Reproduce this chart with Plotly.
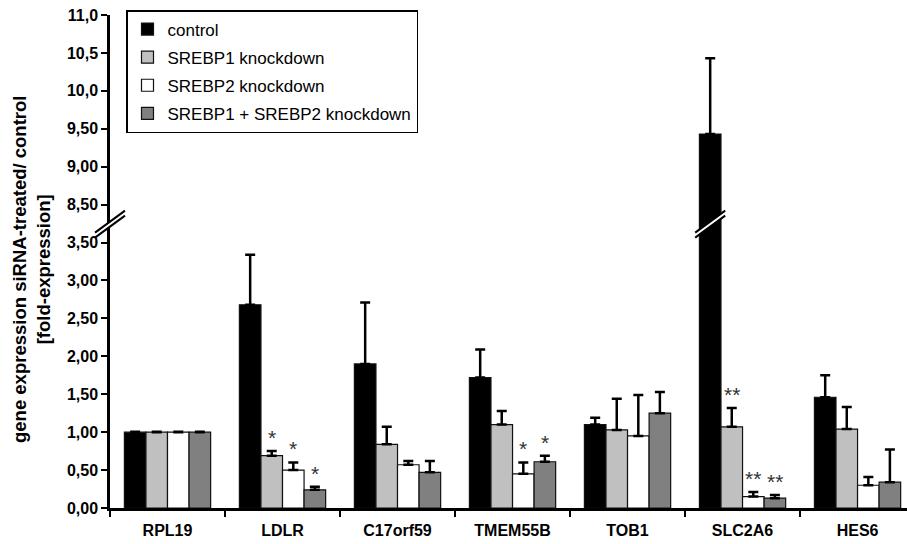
import plotly.graph_objects as go

# ---------------- data ----------------
genes = ["RPL19", "LDLR", "C17orf59", "TMEM55B", "TOB1", "SLC2A6", "HES6"]

control = [1.00, 2.68, 1.90, 1.72, 1.10, 9.43, 1.46]
control_err = [0.006, 0.66, 0.81, 0.37, 0.09, 1.00, 0.29]

srebp1 = [1.00, 0.69, 0.84, 1.10, 1.03, 1.07, 1.04]
srebp1_err = [0.006, 0.06, 0.23, 0.18, 0.41, 0.25, 0.29]

srebp2 = [1.00, 0.50, 0.57, 0.45, 0.95, 0.15, 0.30]
srebp2_err = [0.006, 0.10, 0.05, 0.15, 0.54, 0.06, 0.11]

both = [1.00, 0.24, 0.47, 0.61, 1.25, 0.13, 0.34]
both_err = [0.006, 0.04, 0.15, 0.08, 0.28, 0.04, 0.43]

sig_control = ["", "", "", "", "", "", ""]
sig_srebp1 = ["", "*", "", "", "", "**", ""]
sig_srebp2 = ["", "*", "", "*", "", "**", ""]
sig_both = ["", "*", "", "*", "", "**", ""]

series_names = ["control", "SREBP1 knockdown", "SREBP2 knockdown",
                "SREBP1 + SREBP2 knockdown"]
series_colors = ["#000000", "#C0C0C0", "#FFFFFF", "#808080"]

tick_values = [0.0, 0.5, 1.0, 1.5, 2.0, 2.5, 3.0, 3.5,
               8.5, 9.0, 9.5, 10.0, 10.5, 11.0]
tick_labels = ["0,00", "0,50", "1,00", "1,50", "2,00", "2,50", "3,00", "3,50",
               "8,50", "9,00", "9,50", "10,0", "10,5", "11,0"]

y_title = "gene expression siRNA-treated/ control<br>[fold-expression]"

# broken axis: 3.5 .. 8.5 compressed to a gap of 0.5 units
BREAK_LO, BREAK_HI, GAP = 3.5, 8.5, 0.5
SHIFT = BREAK_HI - BREAK_LO - GAP
Y_MAX = 11.0


def t(v):
    return v if v <= BREAK_LO else v - SHIFT


FONT = "Liberation Sans, Arial, Helvetica, sans-serif"

values = [control, srebp1, srebp2, both]
errors = [control_err, srebp1_err, srebp2_err, both_err]
sigs = [sig_control, sig_srebp1, sig_srebp2, sig_both]

fig = go.Figure()
for k in range(4):
    y = [t(v) for v in values[k]]
    e = [t(v + d) - t(v) for v, d in zip(values[k], errors[k])]
    fig.add_trace(go.Bar(
        x=genes, y=y, name=series_names[k], legendgroup=f"g{k}",
        marker=dict(color=series_colors[k], line=dict(color="#111111", width=1.2)),
        error_y=dict(type="data", array=e, arrayminus=[0] * len(e), symmetric=False,
                     color="#000000", thickness=2.5, width=5),
        customdata=values[k],
        hovertemplate="%{x}: %{customdata}<extra>" + series_names[k] + "</extra>",
    ))

# significance marks
BAR_W = 0.75 / 4
offsets = [-0.375 + BAR_W * (k + 0.5) for k in range(4)]
annotations = []
for k in range(4):
    for i, s in enumerate(sigs[k]):
        if s:
            annotations.append(dict(
                x=i + offsets[k], y=t(values[k][i] + errors[k][i]), xref="x", yref="y",
                text=s, showarrow=False, yanchor="bottom", yshift=0,
                font=dict(family=FONT, size=21, color="#333333")))

# y-axis title as rotated annotation
annotations.append(dict(
    text=y_title, textangle=-90, showarrow=False,
    xref="paper", yref="paper", x=(31 - 110) / 797, y=(508 - 270) / 493,
    xanchor="center", yanchor="middle",
    font=dict(family=FONT, size=18.5, color="black", weight="bold")))

# break symbols (axis and SLC2A6 control bar)
y_break = (BREAK_LO + t(BREAK_HI)) / 2
shapes = []


def break_mark(xref, xanchor):
    common = dict(xref=xref, yref="y", xsizemode="pixel", ysizemode="pixel",
                  xanchor=xanchor, yanchor=y_break, layer="above")
    shapes.append(dict(type="path", path="M-15,-9 L15,13 L15,8 L-15,-14 Z",
                       fillcolor="white", line=dict(width=0), **common))
    shapes.append(dict(type="line", x0=-15, y0=-9, x1=15, y1=13,
                       line=dict(color="black", width=2), **common))
    shapes.append(dict(type="line", x0=-15, y0=-14, x1=15, y1=8,
                       line=dict(color="black", width=2), **common))


break_mark("paper", 0)
break_mark("x", genes.index("SLC2A6") + offsets[0])

fig.update_layout(
    width=907, height=544,
    margin=dict(l=110, r=0, t=15, b=36, autoexpand=False),
    paper_bgcolor="white", plot_bgcolor="white",
    barmode="group", bargap=0.25, bargroupgap=0,
    font=dict(family=FONT, color="black"),
    showlegend=True,
    legend=dict(
        xref="container", yref="container", x=126 / 907, y=1 - 10 / 544,
        xanchor="left", yanchor="top",
        bgcolor="white", bordercolor="black", borderwidth=1.5,
        font=dict(family=FONT, size=17, color="black"),
        traceorder="grouped", tracegroupgap=3,
    ),
    annotations=annotations,
    shapes=shapes,
)

fig.update_xaxes(
    range=[-0.5, 6.43], showline=True, linecolor="black", linewidth=2.5,
    ticks="outside", tickson="boundaries", ticklen=6, tickwidth=2, tickcolor="black",
    tickfont=dict(family=FONT, size=16, color="black", weight="bold"),
    ticklabelstandoff=6,
    showgrid=False, zeroline=False, automargin=False,
)
fig.update_yaxes(
    range=[0, t(Y_MAX)], showline=True, linecolor="black", linewidth=2.5,
    tickmode="array", tickvals=[t(v) for v in tick_values], ticktext=tick_labels,
    ticks="outside", ticklen=6, tickwidth=2, tickcolor="black",
    tickfont=dict(family=FONT, size=16, color="black", weight="bold"),
    showgrid=False, zeroline=False, automargin=False,
)

fig.write_html("out.html")
